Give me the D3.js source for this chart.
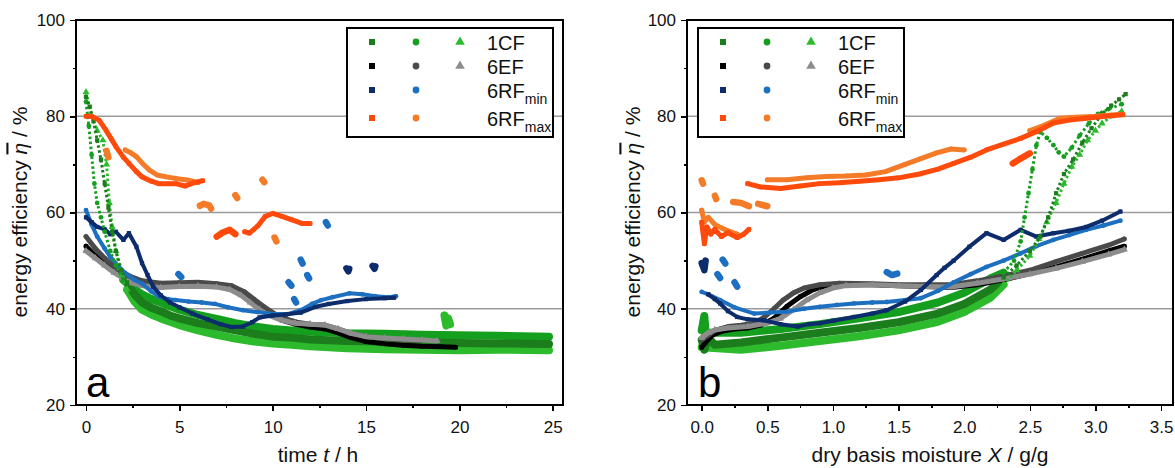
<!DOCTYPE html>
<html lang="en">
<head>
<meta charset="UTF-8">
<title>energy efficiency</title>
<script src="https://cdn.jsdelivr.net/npm/d3@7/dist/d3.min.js"></script>
<style>
    body { margin: 0; background: #fff; }
    svg { font-family: "Liberation Sans", Arial, sans-serif; }
    .axis path, .axis line { stroke: #000; stroke-width: 1.6; shape-rendering: crispEdges; }
    .axis text { font-size: 17px; fill: #111; font-family: "Liberation Sans", Arial, sans-serif; }
    .grid line { stroke: #9a9a9a; stroke-width: 1.5; }
    .lbl { font-size: 21px; fill: #111; }
    .leg { font-size: 20px; fill: #111; }
</style>
</head>
<body>
<script>
// ---- tick values
var timeTicks = [0, 5, 10, 15, 20, 25];
var timeMinor = [2.5, 7.5, 12.5, 17.5, 22.5];
var moistTicks = [0, 0.5, 1.0, 1.5, 2.0, 2.5, 3.0, 3.5];
var moistMinor = [0.25, 0.75, 1.25, 1.75, 2.25, 2.75, 3.25];
var effTicks = [20, 40, 60, 80, 100];
var effMinor = [30, 50, 70, 90];
var gridVals = [40, 60, 80];
var legendNames = ["1CF", "6EF", "6RF", "6RF"];
var legendSubs = ["", "", "min", "max"];

// ---- panel a : efficiency vs time t (h); null = gap
// 1CF: fast drop (sparse points) and the dense band after it
var a_1CF_sq_drop = [[0,84],[0.2,82],[0.4,79],[0.6,75],[0.8,71],[1.0,66],[1.2,61],[1.4,56],[1.6,52],[1.9,48],[2.2,45.5]];
var a_1CF_ci_drop = [[0,83],[0.15,78],[0.3,72],[0.45,66],[0.6,62],[0.8,59],[1.0,56],[1.3,52],[1.6,49],[2.0,46]];
var a_1CF_tr_drop = [[0,85],[0.3,80],[0.6,77],[0.9,75],[1.1,70],[1.25,62],[1.4,57],[1.6,52],[1.9,47],[2.2,44]];
var a_1CF_sq = [[2.2,45.5],[2.6,43],[3,41.3],[3.5,40.2],[4,39.5],[4.5,38.6],[5,38],[6,37],[7,36.3],[8,35.5],[9,34.8],[10,34.2],[11,34],[12,33.6],[14,33.3],[16,33.2],[18,33],[20,32.9],[22,32.8],[24.8,32.7]];
var a_1CF_ci = [[2.0,46],[2.5,44.3],[3,43],[3.5,42],[4,41.3],[4.5,40.5],[5,39.8],[6,38.7],[7,37.9],[8,37],[9,36.3],[10,35.8],[11,35.5],[12,35.2],[14,34.9],[16,34.8],[18,34.6],[20,34.5],[22,34.4],[24.8,34.2]];
var a_1CF_tr = [[2.2,44],[2.6,41.5],[3,39.8],[3.5,38.8],[4,38],[4.5,37.3],[5,36.6],[6,35.5],[7,34.6],[8,33.8],[9,33.2],[10,32.8],[11,32.5],[12,32.2],[14,31.8],[16,31.6],[18,31.5],[20,31.4],[22,31.5],[24.8,31.4],null,[19.2,38.6],[19.3,36.5],[19.4,38],[19.5,36.8]];
var a_6EF_sq = [[0,53],[0.5,51],[1,49.5],[1.5,48],[2,46.8],[2.5,45.8],[3,45.2],[4,44.8],[5,45],[6,45],[7,44.8],[7.7,44.3],[8.3,43],[8.8,41.5],[9.3,40],[9.8,38.8],[10.5,37.6],[11.2,36.8],[12,36.2],[12.8,35.8],[13.5,35],[14.2,34],[15,33.2],[16,32.7],[17,32.4],[18,32.2],[19,32.1],[19.8,32]];
var a_6EF_ci = [[0,55],[0.5,52.5],[1,50.5],[1.5,48.8],[2,47.5],[2.5,46.5],[3,45.8],[4,45.3],[5,45.4],[6,45.5],[7,45.2],[7.8,44.8],[8.5,43.5],[9,42],[9.5,40.5],[10,39.2],[10.6,38],[11.3,37.2],[12,36.8],[12.8,36.6],[13.5,35.8],[14.2,34.9],[15,34.2],[16,33.8],[17,33.5],[17.8,33.4]];
var a_6EF_tr = [[0,52],[0.5,50.5],[1,49],[1.5,47.5],[2,46.3],[2.5,45.3],[3,44.8],[4,44.4],[5,44.6],[6,44.7],[7,44.5],[7.7,44],[8.3,42.8],[8.8,41.3],[9.3,39.8],[9.8,38.6],[10.5,37.6],[11.2,37],[12,36.8],[12.8,36.6],[13.5,35.8],[14.2,34.9],[15,34.2],[16,33.9],[17,33.7],[18,33.5],[18.8,33.3]];
var a_6RFmin_sq = [[0,59],[0.3,58],[0.6,57],[1,56.5],[1.3,55.5],[1.6,56],[2,54.3],[2.3,55.7],[2.7,52.9],[3,49.5],[3.3,47],[3.6,44.6],[4,42.8],[4.5,41.3],[5,40.3],[5.7,39],[6.5,37.8],[7.2,36.8],[7.8,36.2],[8.4,36.3],[8.9,37.2],[9.3,38.2],[10,38.6],[10.7,38.8],[11.5,39.2],[12.3,40.4],[13,41],[14,41.6],[15,42],[16,42.2],[16.5,42.3],null,[13.95,48.4],[14.05,47.8],[14.1,48.3],null,[15.35,48.9],[15.45,48.3],[15.5,48.8]];
var a_6RFmin_ci = [[0,60.5],[0.3,57.5],[0.6,55],[1,52.5],[1.3,50.8],[1.7,49],[2.1,47.4],[2.6,46],[3,45.2],[3.5,43.6],[3.9,42.5],[4.4,42],[4.8,41.8],[5.5,41.5],[6.2,41.3],[6.9,41],[7.6,40.3],[8.4,39.7],[9.2,39.3],[10,38.9],[10.8,38.9],[11.5,39.7],[12.1,41],[12.6,41.8],[13.2,42.4],[14.1,43.2],[14.8,43],[15.5,42.6],[16.2,42.4],[16.6,42.6],null,[4.95,47.2],[5.1,46.6],null,[10.85,45.5],[11,44.8],null,[11.15,42],[11.25,41.3],null,[11.5,50.2],[11.6,49.4],null,[11.85,47],[11.95,46.3],null,[12.85,58],[12.95,57.3]];
var a_6RFmax_sq = [[0,80],[0.3,80],[0.7,79.2],[1.07,77.1],[1.35,75.3],[1.6,73.7],[2,71.5],[2.3,70.2],[2.7,68.5],[3,67.4],[3.5,66.5],[3.9,66],[4.4,66],[4.8,66],[5.3,65.5],[5.8,66.2],[6.25,66.6],null,[7,55],[7.3,55.8],[7.7,56.4],[8,55.5],null,[8.5,56],[8.75,55.7],[9.2,57.2],[9.6,59.2],[10,59.8],[10.5,59.2],[11,58.5],[11.6,57.7],[12,57.7]];
var a_6RFmax_ci = [[1.1,72.8],[1.2,71.5],null,[2.1,73],[2.4,72.4],[2.7,71.6],[3,70.3],[3.4,68.8],[3.8,67.8],[4.3,67.4],[4.9,67],[5.5,66.7],[6,66.2],null,[6.1,61.4],[6.3,61.8],[6.6,61.5],[6.7,60.8],null,[8.0,63.6],[8.1,63],null,[9.45,66.8],[9.55,66.3],null,[10.1,54.8],[10.2,54]];

// ---- panel b : efficiency vs dry basis moisture X (g/g)
var b_1CF_sq = [[0,33.5],[0.02,31.5],[0.05,34],[0.1,32.5],[0.3,33],[0.6,34],[0.9,35],[1.2,36],[1.5,37.2],[1.8,39],[2.0,41],[2.2,44],[2.3,46.5]];
var b_1CF_ci = [[0,35.5],[0.02,38.5],[0.03,35],[0.3,35],[0.6,35.8],[0.9,36.8],[1.2,38],[1.5,39.3],[1.8,41.3],[2.0,43.3],[2.2,46.3],[2.3,47.5]];
var b_1CF_tr = [[0,32],[0.3,31.5],[0.6,32.3],[0.9,33.3],[1.2,34.3],[1.5,35.5],[1.8,37.3],[2.0,39.3],[2.2,42.3],[2.3,45]];
var b_1CF_sq_rise = [[2.3,46.5],[2.4,49],[2.5,52],[2.58,55],[2.64,59],[2.7,64],[2.76,68],[2.83,71],[2.9,74.5],[2.97,77.5],[3.05,80.5],[3.12,82.2],[3.18,83.5],[3.23,84.6]];
var b_1CF_ci_rise = [[2.3,47.5],[2.38,50],[2.43,54],[2.46,59],[2.49,64],[2.52,69],[2.55,74],[2.58,76.8],[2.63,75.5],[2.68,74],[2.72,72.5],[2.76,71.6],[2.82,73.5],[2.88,76],[2.95,78.5],[3.02,80.5],[3.1,81.5],[3.2,82.5]];
var b_1CF_tr_rise = [[2.3,45],[2.4,48],[2.5,51],[2.57,54.5],[2.63,58],[2.7,62],[2.76,66],[2.82,69.5],[2.88,72],[2.94,75],[3.0,77],[3.05,78.5],[3.12,80],[3.2,81]];
var b_6EF_sq = [[0,32],[0.03,33],[0.08,34.5],[0.15,35.3],[0.25,35.8],[0.35,36],[0.45,36.6],[0.55,38],[0.65,40.5],[0.75,42.5],[0.85,44],[0.95,44.8],[1.1,45],[1.3,45],[1.5,44.8],[1.7,44.6],[1.9,44.4],[2.1,45],[2.3,46],[2.5,47.3],[2.7,48.7],[2.9,50.3],[3.1,52],[3.22,53]];
var b_6EF_ci = [[0,33.5],[0.05,34.5],[0.1,35.5],[0.2,36.3],[0.3,36.6],[0.4,37],[0.48,38.3],[0.55,40],[0.62,41.8],[0.7,43.3],[0.78,44.3],[0.9,45],[1.05,45.3],[1.3,45.2],[1.5,45],[1.7,45],[1.9,45],[2.1,45.8],[2.3,46.8],[2.5,48],[2.7,49.8],[2.9,51.5],[3.1,53.2],[3.22,54.5]];
var b_6EF_tr = [[0,34],[0.05,35],[0.1,35.6],[0.2,36],[0.35,36.3],[0.5,37],[0.6,38],[0.7,39.8],[0.8,41.8],[0.9,43.3],[1.0,44.3],[1.1,44.8],[1.3,45],[1.5,44.8],[1.7,44.6],[1.9,44.5],[2.1,45.3],[2.3,46.2],[2.5,47.2],[2.7,48.4],[2.9,49.8],[3.1,51.3],[3.22,52.3]];
var b_6RFmin_sq = [[0,49.5],[0.02,48],[0.03,50],null,[0.05,43],[0.1,42],[0.14,41.1],[0.2,39.5],[0.27,38.3],[0.35,37.8],[0.47,37.6],[0.6,36.8],[0.73,36.3],[0.82,36.8],[0.9,37],[1.0,37.5],[1.16,38.3],[1.3,39],[1.41,39.7],[1.55,41.5],[1.67,43.9],[1.79,47],[1.85,48.5],[1.92,50],[2.04,52.9],[2.17,55.7],[2.3,54.3],[2.43,56.4],[2.55,55],[2.68,55.7],[2.8,56.2],[2.93,57],[3.05,58.3],[3.19,60.2]];
var b_6RFmin_ci = [[0,43.5],[0.05,43],[0.14,41.8],[0.25,40.3],[0.4,39],[0.52,39.2],[0.65,39.4],[0.78,40],[0.9,40.4],[1.03,40.8],[1.16,41.1],[1.3,41.3],[1.41,41.4],[1.55,41.8],[1.67,42.2],[1.8,43.7],[1.92,45.5],[2.05,47.2],[2.17,48.7],[2.3,50],[2.43,51.5],[2.55,53],[2.68,54.3],[2.8,55.3],[2.93,56.4],[3.06,57.3],[3.19,58.3],null,[0.16,50.2],[0.18,49.4],null,[0.12,47.2],[0.14,46.4],null,[0.25,45.5],[0.27,44.6],null,[1.41,47.6],[1.45,47],[1.49,47.3]];
var b_6RFmax_sq = [[0,58],[0.02,53.5],[0.04,57],[0.07,55.5],[0.1,56.5],[0.15,55],[0.2,55.8],[0.27,54.8],[0.32,55.5],[0.36,56.5],null,[0.35,66],[0.45,65.3],[0.6,65],[0.75,65.5],[0.9,66],[1.05,66.2],[1.2,66.5],[1.35,66.8],[1.5,67.2],[1.66,68],[1.8,69],[1.92,70.2],[2.05,71.5],[2.17,73],[2.3,74.2],[2.43,75.4],[2.55,76.8],[2.68,78.6],[2.8,79.2],[2.93,79.6],[3.07,80],[3.21,80.3],null,[2.37,70.2],[2.43,71.2],[2.5,72.3]];
var b_6RFmax_ci = [[0,60.5],[0.02,58],[0.05,59],[0.1,57.5],[0.15,56.8],[0.2,56.2],[0.27,55.5],null,[0,66.7],[0.01,66],null,[0.1,63.5],[0.11,62.8],null,[0.24,62.2],[0.3,62],[0.36,61.3],null,[0.43,61.8],[0.5,61.3],null,[0.5,66.8],[0.65,66.8],[0.8,67.2],[0.95,67.5],[1.1,67.6],[1.25,67.8],[1.4,68.5],[1.55,70],[1.67,71.2],[1.79,72.4],[1.9,73.2],[2.0,73],null,[2.5,77],[2.6,78],[2.73,79.6],[2.85,79.8],[3.0,80],[3.2,80.4]];

// colours per run
var col = {
    cf: ["#1b7d1b", "#159f1f", "#2dbb2d"],
    ef: ["#000000", "#4a4a4a", "#8c8c8c"],
    rmin: ["#0d2c6c", "#1d6fc0"],
    rmax: ["#ff4a0c", "#f47b28"]
};
var sym = [d3.symbolSquare, d3.symbolCircle, d3.symbolTriangle];

function seriesOf(p) {
    // drawing order: back to front; thin = sparse dotted stretch
    return [
        {d: p.cfTr, c: col.cf[2], s: 2, w: 8},
        {d: p.cfCi, c: col.cf[1], s: 1, w: 8},
        {d: p.cfSq, c: col.cf[0], s: 0, w: 8},
        {d: p.efSq, c: col.ef[0], s: 0, w: 5},
        {d: p.efCi, c: col.ef[1], s: 1, w: 5},
        {d: p.efTr, c: col.ef[2], s: 2, w: 5},
        {d: p.rminCi, c: col.rmin[1], s: 1, w: 4},
        {d: p.rminSq, c: col.rmin[0], s: 0, w: 4},
        {d: p.cfTrThin, c: col.cf[2], s: 2, w: 3, thin: true},
        {d: p.cfCiThin, c: col.cf[1], s: 1, w: 3, thin: true},
        {d: p.cfSqThin, c: col.cf[0], s: 0, w: 3, thin: true},
        {d: p.rmaxCi, c: col.rmax[1], s: 1, w: 5},
        {d: p.rmaxSq, c: col.rmax[0], s: 0, w: 5}
    ];
}

var panels = [
    {left: 76, right: 563, xdom: [-0.536, 25.55], ticks: timeTicks, minor: timeMinor, fmt: d3.format("d"),
     tag: "a", tagX: 86, ylx: 20, xlab: ["time ", "t", " / h"], xlx: 318,
     legX: 347, legW: 206,
     cfSq: a_1CF_sq, cfCi: a_1CF_ci, cfTr: a_1CF_tr,
     cfSqThin: a_1CF_sq_drop, cfCiThin: a_1CF_ci_drop, cfTrThin: a_1CF_tr_drop,
     efSq: a_6EF_sq, efCi: a_6EF_ci, efTr: a_6EF_tr,
     rminSq: a_6RFmin_sq, rminCi: a_6RFmin_ci, rmaxSq: a_6RFmax_sq, rmaxCi: a_6RFmax_ci},
    {left: 687, right: 1173, xdom: [-0.112, 3.591], ticks: moistTicks, minor: moistMinor, fmt: d3.format(".1f"),
     tag: "b", tagX: 698, ylx: 633, xlab: ["dry basis moisture ", "X", " / g/g"], xlx: 930,
     legX: 698, legW: 206,
     cfSq: b_1CF_sq, cfCi: b_1CF_ci, cfTr: b_1CF_tr,
     cfSqThin: b_1CF_sq_rise, cfCiThin: b_1CF_ci_rise, cfTrThin: b_1CF_tr_rise,
     efSq: b_6EF_sq, efCi: b_6EF_ci, efTr: b_6EF_tr,
     rminSq: b_6RFmin_sq, rminCi: b_6RFmin_ci, rmaxSq: b_6RFmax_sq, rmaxCi: b_6RFmax_ci}
];

// split a series at its null entries
function segments(arr) {
    var out = [], cur = [];
    arr.forEach(function (d) {
        if (d === null) { if (cur.length) out.push(cur); cur = []; }
        else cur.push(d);
    });
    if (cur.length) out.push(cur);
    return out;
}

var width = 1175, height = 468, plotTop = 20, plotBottom = 405;
var svg = d3.select("body").append("svg")
    .attr("width", width)
    .attr("height", height);

var yScale = d3.scaleLinear().domain([20, 100]).range([plotBottom, plotTop]);

panels.forEach(function (p) {
    var xScale = d3.scaleLinear().domain(p.xdom).range([p.left, p.right]);
    var g = svg.append("g");

    // grid lines
    g.append("g").attr("class", "grid")
        .selectAll("line").data(gridVals).enter().append("line")
        .attr("x1", p.left).attr("x2", p.right)
        .attr("y1", function (d) { return yScale(d); })
        .attr("y2", function (d) { return yScale(d); });

    // data
    var clipId = "clip" + p.tag;
    svg.append("clipPath").attr("id", clipId).append("rect")
        .attr("x", p.left).attr("y", plotTop).attr("width", p.right - p.left).attr("height", plotBottom - plotTop);
    var plot = g.append("g").attr("clip-path", "url(#" + clipId + ")");
    var line = d3.line()
        .x(function (d) { return xScale(d[0]); })
        .y(function (d) { return yScale(d[1]); });

    seriesOf(p).forEach(function (s) {
        segments(s.d).forEach(function (seg) {
            // isolated clumps are drawn as fat blobs
            var w = seg.length <= 4 ? Math.max(s.w, 6.5) : s.w;
            plot.append("path")
                .attr("d", line(seg.length > 1 ? seg : [seg[0], seg[0]]))
                .attr("fill", "none")
                .attr("stroke", s.c)
                .attr("stroke-width", w)
                .attr("stroke-dasharray", s.thin ? "2.5,2.5" : null)
                .attr("stroke-linejoin", "round")
                .attr("stroke-linecap", s.thin ? "butt" : "round");
        });
        plot.selectAll(null)
            .data(s.d.filter(function (d) { return d !== null; }))
            .enter().append("path")
            .attr("transform", function (d) { return "translate(" + xScale(d[0]) + "," + yScale(d[1]) + ")"; })
            .attr("d", d3.symbol().type(sym[s.s]).size(s.s === 2 ? 22 : 18))
            .attr("fill", s.c);
    });

    // axes
    g.append("g").attr("class", "axis")
        .attr("transform", "translate(0," + plotBottom + ")")
        .call(d3.axisBottom(xScale).tickValues(p.ticks).tickFormat(p.fmt)
            .tickSizeInner(6).tickSizeOuter(0).tickPadding(10));
    g.append("g").attr("class", "axis")
        .attr("transform", "translate(0," + plotBottom + ")")
        .call(d3.axisBottom(xScale).tickValues(p.minor).tickFormat("")
            .tickSizeInner(3).tickSizeOuter(0));
    g.append("g").attr("class", "axis")
        .attr("transform", "translate(" + p.left + ",0)")
        .call(d3.axisLeft(yScale).tickValues(effTicks)
            .tickSizeInner(6).tickSizeOuter(0).tickPadding(5));
    g.append("g").attr("class", "axis")
        .attr("transform", "translate(" + p.left + ",0)")
        .call(d3.axisLeft(yScale).tickValues(effMinor).tickFormat("")
            .tickSizeInner(3).tickSizeOuter(0));

    // frame
    g.append("rect")
        .attr("x", p.left).attr("y", plotTop)
        .attr("width", p.right - p.left).attr("height", plotBottom - plotTop)
        .attr("fill", "none").attr("stroke", "#000").attr("stroke-width", 2);

    // panel tag
    g.append("text")
        .attr("x", p.tagX).attr("y", 397)
        .style("font-size", "42px").attr("fill", "#000")
        .text(p.tag);

    // axis titles
    var xl = g.append("text").attr("class", "lbl")
        .attr("x", p.xlx).attr("y", 462).attr("text-anchor", "middle");
    xl.append("tspan").text(p.xlab[0]);
    xl.append("tspan").style("font-style", "italic").text(p.xlab[1]);
    xl.append("tspan").text(p.xlab[2]);

    var yl = g.append("text").attr("class", "lbl")
        .attr("transform", "translate(" + p.ylx + ",212) rotate(-90)")
        .attr("text-anchor", "middle").attr("dy", "0.35em");
    yl.append("tspan").text("energy efficiency ");
    yl.append("tspan").style("font-style", "italic").style("text-decoration", "overline").text("\u03b7");
    yl.append("tspan").text(" / %");

    // legend
    var leg = g.append("g");
    leg.append("rect")
        .attr("x", p.legX).attr("y", 28).attr("width", p.legW).attr("height", 109)
        .attr("fill", "#fff").attr("stroke", "#000").attr("stroke-width", 2);
    var rowY = [42, 66, 90, 118];
    var rowCols = [col.cf, col.ef, col.rmin, col.rmax];
    rowCols.forEach(function (cs, i) {
        cs.forEach(function (c, j) {
            leg.append("path")
                .attr("transform", "translate(" + (p.legX + 25 + j * 44) + "," + rowY[i] + ")")
                .attr("d", d3.symbol().type(sym[j]).size(j === 2 ? 40 : 36))
                .attr("fill", c);
        });
        var t = leg.append("text").attr("class", "leg")
            .attr("x", p.legX + 140).attr("y", rowY[i] + 8);
        t.append("tspan").text(legendNames[i]);
        if (legendSubs[i]) {
            t.append("tspan").attr("dy", 6).style("font-size", "14px").text(legendSubs[i]);
        }
    });
});
</script>
</body>
</html>
